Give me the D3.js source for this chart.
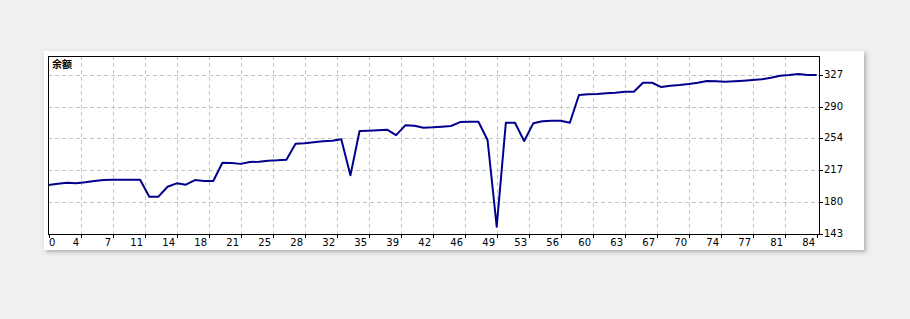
<!DOCTYPE html>
<html>
<head>
<meta charset="utf-8">
<script src="https://cdn.jsdelivr.net/npm/d3@7"></script>
<style>
  body { margin: 0; background: #f0f0f0; }
  svg { display: block; }
</style>
</head>
<body>
<div id="chart"></div>
<script>
// balance after each trade
var balance = [
  199.7, 201.2, 202.4, 201.7, 202.9, 204.4, 205.5, 205.9, 205.9, 205.9,
  205.9, 186.3, 186.3, 197.8, 201.7, 200.1, 205.5, 204.4, 204.4, 225.4,
  225.1, 224.1, 226.2, 226.6, 227.8, 228.2, 228.9, 247.3, 247.8, 248.9,
  250.1, 250.8, 252.4, 210.9, 262.0, 262.3, 262.8, 263.5, 257.3, 268.5,
  268.1, 265.8, 266.2, 266.9, 267.7, 272.3, 272.7, 272.7, 251.6, 151.7,
  271.5, 271.5, 250.4, 270.8, 273.1, 273.8, 273.8, 271.5, 303.4, 304.2,
  304.6, 305.4, 306.1, 307.2, 307.2, 317.6, 317.6, 312.6, 314.1, 314.9,
  316.1, 317.6, 319.6, 319.2, 318.7, 319.2, 319.9, 320.7, 321.5, 323.4,
  325.7, 326.5, 327.6, 326.5, 326.5
];
var xTickLabels = [0, 4, 7, 11, 14, 18, 21, 25, 28, 32, 35, 39, 42, 46, 49, 53, 56, 60, 63, 67, 70, 74, 77, 81, 84];
var yTickLabels = [143, 180, 217, 254, 290, 327];
var title = '余额';

var svg = d3.select('#chart').append('svg')
    .attr('width', 910)
    .attr('height', 319);

var defs = svg.append('defs');
defs.append('filter').attr('id', 'shadow')
    .attr('x', '-5%').attr('y', '-10%').attr('width', '110%').attr('height', '125%')
  .append('feDropShadow')
    .attr('dx', 2).attr('dy', 2).attr('stdDeviation', 2)
    .attr('flood-color', '#777').attr('flood-opacity', 0.55);

svg.append('rect')
    .attr('width', 910).attr('height', 319)
    .attr('fill', '#f0f0f0');

// white panel
svg.append('rect')
    .attr('x', 44).attr('y', 51)
    .attr('width', 820).attr('height', 199)
    .attr('fill', '#fff')
    .attr('filter', 'url(#shadow)');

var frame = {left: 48, top: 56, right: 819, bottom: 234};

var x = d3.scaleLinear().domain([0, balance.length - 1]).range([48.7, 816.7]),
  y = d3.scaleLinear().domain([143.3, 348.4]).range([frame.bottom, frame.top]);

var xStep = (balance.length - 1) / (xTickLabels.length - 1);
var xTicks = xTickLabels.map(function (d, i) { return { pos: i * xStep, label: d }; });

var g = svg.append('g');

// grid
g.selectAll('.vgrid')
  .data(xTicks.slice(1, -1))
  .enter().append('line')
    .attr('class', 'vgrid')
    .attr('x1', function (d) { return Math.round(x(d.pos)) + 0.5; })
    .attr('x2', function (d) { return Math.round(x(d.pos)) + 0.5; })
    .attr('y1', frame.top).attr('y2', frame.bottom)
    .attr('stroke', '#c4c4c4')
    .attr('stroke-dasharray', '4,3');

g.selectAll('.hgrid')
  .data(yTickLabels.slice(1))
  .enter().append('line')
    .attr('class', 'hgrid')
    .attr('x1', frame.left).attr('x2', frame.right)
    .attr('y1', function (d) { return Math.round(y(d)) + 0.5; })
    .attr('y2', function (d) { return Math.round(y(d)) + 0.5; })
    .attr('stroke', '#c4c4c4')
    .attr('stroke-dasharray', '4,3');

// balance line
var line = d3.line()
  .x(function (d, i) { return x(i); })
  .y(function (d) { return y(d); });

g.append('path')
    .datum(balance)
    .attr('d', line)
    .attr('fill', 'none')
    .attr('stroke', '#00008c')
    .attr('stroke-width', 2)
    .attr('stroke-linejoin', 'round');

// frame
g.append('rect')
    .attr('x', frame.left + 0.5).attr('y', frame.top + 0.5)
    .attr('width', frame.right - frame.left).attr('height', frame.bottom - frame.top)
    .attr('fill', 'none')
    .attr('stroke', '#000');

// y axis on the right
var yAxis = g.append('g');
yAxis.selectAll('line')
  .data(yTickLabels)
  .enter().append('line')
    .attr('x1', frame.right + 1).attr('x2', frame.right + 4)
    .attr('y1', function (d) { return Math.round(y(d)) + 0.5; })
    .attr('y2', function (d) { return Math.round(y(d)) + 0.5; })
    .attr('stroke', '#000');
yAxis.selectAll('text')
  .data(yTickLabels)
  .enter().append('text')
    .attr('x', frame.right + 5)
    .attr('y', function (d) { return Math.round(y(d)) + 3; })
    .style('font', '10px "DejaVu Sans", sans-serif')
    .attr('fill', '#000')
    .text(function (d) { return d; });

// x axis
var xAxis = g.append('g');
xAxis.selectAll('line')
  .data(xTicks)
  .enter().append('line')
    .attr('x1', function (d) { return Math.round(x(d.pos)) + 0.5; })
    .attr('x2', function (d) { return Math.round(x(d.pos)) + 0.5; })
    .attr('y1', frame.bottom + 1).attr('y2', frame.bottom + 4)
    .attr('stroke', '#000');
xAxis.selectAll('text')
  .data(xTicks)
  .enter().append('text')
    .attr('x', function (d, i) { return i === 0 ? frame.left + 1 : Math.round(x(d.pos)) - 2; })
    .attr('y', frame.bottom + 12)
    .attr('text-anchor', function (d, i) { return i === 0 ? 'start' : 'end'; })
    .style('font', '10px "DejaVu Sans", sans-serif')
    .attr('fill', '#000')
    .text(function (d) { return d.label; });

// title inside the plot
g.append('text')
    .attr('x', frame.left + 4)
    .attr('y', frame.top + 12)
    .style('font', 'bold 10px "Noto Sans CJK SC", sans-serif')
    .attr('fill', '#000')
    .text(title);
</script>
</body>
</html>
